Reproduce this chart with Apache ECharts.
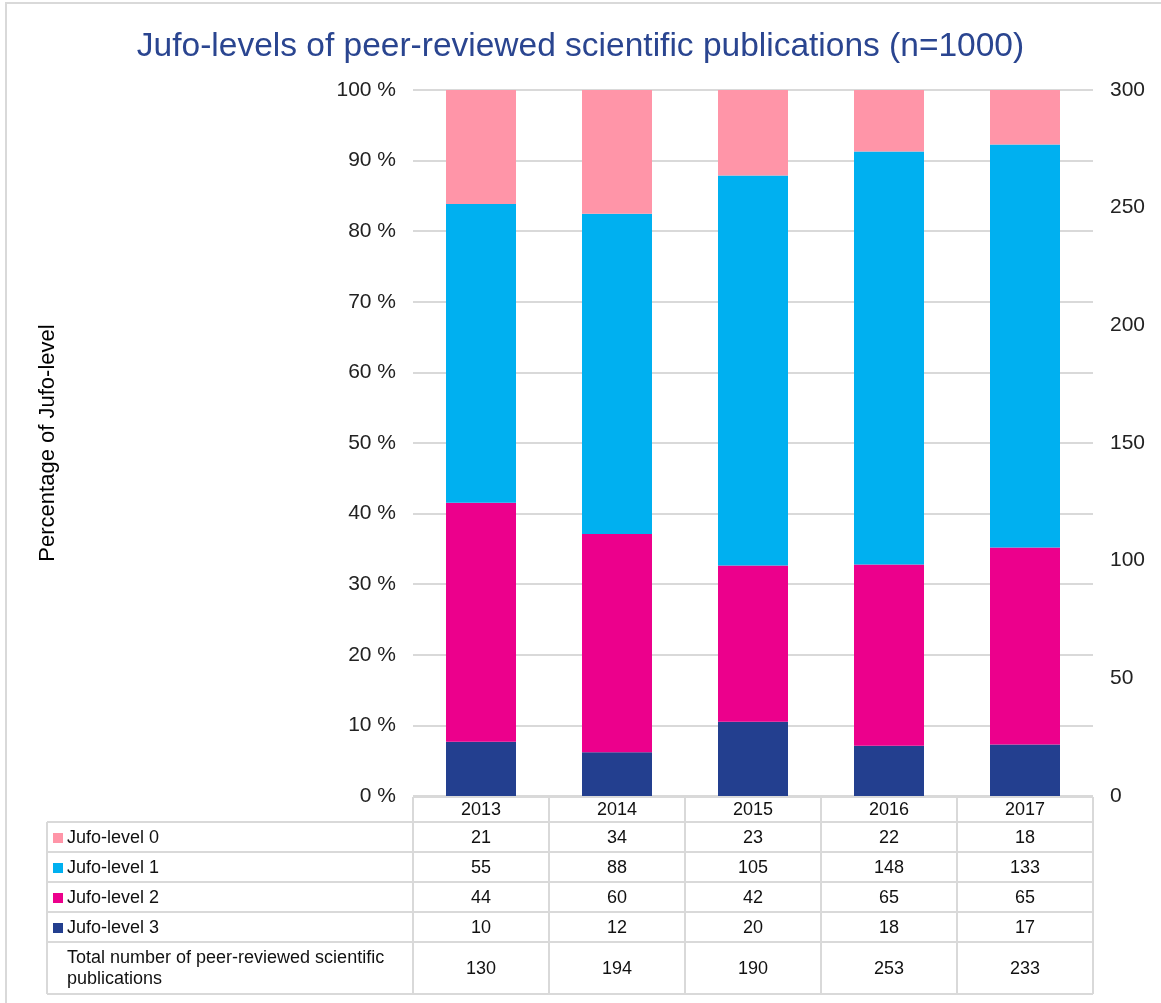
<!DOCTYPE html>
<html>
<head>
<meta charset="utf-8">
<script src="https://cdn.jsdelivr.net/npm/echarts@6/dist/echarts.min.js"></script>
<style>
    html, body { margin: 0; padding: 0; background: #fff; }
    #chart { width: 1161px; height: 1003px; }
</style>
</head>
<body>
<div id="chart"></div>
<script>
// data
const years = ["2013", "2014", "2015", "2016", "2017"];
const level0 = [21, 34, 23, 22, 18];
const level1 = [55, 88, 105, 148, 133];
const level2 = [44, 60, 42, 65, 65];
const level3 = [10, 12, 20, 18, 17];
const totals = [130, 194, 190, 253, 233];
const leftTicks = [0, 100, 10];   // min, max, interval (percent)
const rightTicks = [0, 300, 50];  // min, max, interval (count)

const colors = {
    l0: "#FF95A8",
    l1: "#00B0F0",
    l2: "#EC008C",
    l3: "#233F8F",
};
const font = "Liberation Sans, Arial, sans-serif";

const rows = [
    { name: "Jufo-level 0", data: level0, color: colors.l0 },
    { name: "Jufo-level 1", data: level1, color: colors.l1 },
    { name: "Jufo-level 2", data: level2, color: colors.l2 },
    { name: "Jufo-level 3", data: level3, color: colors.l3 },
];

function pct(arr) {
    return arr.map((v, i) => (v / totals[i]) * 100);
}

const myChart = echarts.init(document.getElementById("chart"));

const gridLeft = 413, gridRight = 68, gridTop = 90, gridBottom = 207;

let option = {
    animation: false,
    backgroundColor: "#fff",
    textStyle: { fontFamily: font },
    title: {
        text: "Jufo-levels of peer-reviewed scientific publications (n=1000)",
        left: "center",
        top: 25,
        textStyle: { color: "#2A4590", fontSize: 33.5, fontWeight: "normal", fontFamily: font },
    },
    grid: { left: gridLeft, right: gridRight, top: gridTop, bottom: gridBottom },
    xAxis: {
        type: "category",
        data: years,
        axisLine: { show: false },
        axisTick: { show: false },
        axisLabel: { show: false },
    },
    yAxis: [
        {
            type: "value",
            min: leftTicks[0],
            max: leftTicks[1],
            interval: leftTicks[2],
            name: "Percentage of Jufo-level",
            nameLocation: "middle",
            nameGap: 354,
            nameTextStyle: { fontSize: 22, color: "#000", fontFamily: font },
            axisLabel: { formatter: "{value} %", fontSize: 21, color: "#222", margin: 17 },
            splitLine: { lineStyle: { color: "#D9D9D9", width: 2 } },
        },
        {
            type: "value",
            min: rightTicks[0],
            max: rightTicks[1],
            interval: rightTicks[2],
            position: "right",
            axisLabel: { fontSize: 21, color: "#222", margin: 17 },
            splitLine: { show: false },
        },
    ],
    series: [
        { name: "Jufo-level 3", data: pct(level3), color: colors.l3 },
        { name: "Jufo-level 2", data: pct(level2), color: colors.l2 },
        { name: "Jufo-level 1", data: pct(level1), color: colors.l1 },
        { name: "Jufo-level 0", data: pct(level0), color: colors.l0 },
    ].map((s) => ({
        name: s.name,
        type: "bar",
        stack: "total",
        barWidth: 70,
        data: s.data,
        itemStyle: { color: s.color },
    })),
};
myChart.setOption(option);

// data table under the plot
function buildTable() {
    const c0 = myChart.convertToPixel({ xAxisIndex: 0 }, years[0]);
    const c1 = myChart.convertToPixel({ xAxisIndex: 0 }, years[1]);
    const colW = c1 - c0;
    const tableLeft = 47;
    const firstCol = c0 - colW / 2;
    const lastCol = firstCol + colW * years.length;
    const rowY = [797, 822, 852, 882, 912, 942, 994];
    const lineColor = "#D9D9D9";
    const els = [];

    // outer frame of the picture
    els.push({ type: "rect", shape: { x: 6, y: 3, width: 1170, height: 1010 },
        style: { fill: null, stroke: lineColor, lineWidth: 2 }, silent: true });

    // horizontal lines
    rowY.forEach((y, i) => {
        const x1 = i === 0 ? firstCol : tableLeft;
        els.push({ type: "line", shape: { x1: x1, y1: y, x2: lastCol, y2: y },
            style: { stroke: lineColor, lineWidth: 2 } });
    });
    // vertical lines
    els.push({ type: "line", shape: { x1: tableLeft, y1: rowY[1], x2: tableLeft, y2: rowY[6] },
        style: { stroke: lineColor, lineWidth: 2 } });
    for (let i = 0; i <= years.length; i++) {
        const x = firstCol + colW * i;
        els.push({ type: "line", shape: { x1: x, y1: rowY[0], x2: x, y2: rowY[6] },
            style: { stroke: lineColor, lineWidth: 2 } });
    }

    const cellText = (x, y, t, align) => ({
        type: "text", x: x, y: y,
        style: { text: t, fill: "#111", font: "18px " + font, align: align || "center", verticalAlign: "middle" },
    });

    // header years
    years.forEach((yr, i) => els.push(cellText(c0 + colW * i, (rowY[0] + rowY[1]) / 2 + 1, yr)));

    // level rows
    rows.forEach((r, ri) => {
        const yMid = (rowY[ri + 1] + rowY[ri + 2]) / 2 + 1;
        els.push({ type: "rect", shape: { x: 53, y: yMid - 5, width: 10, height: 10 }, style: { fill: r.color } });
        els.push(cellText(67, yMid, r.name, "left"));
        r.data.forEach((v, i) => els.push(cellText(c0 + colW * i, yMid, String(v))));
    });

    // totals row
    const yTot = (rowY[5] + rowY[6]) / 2 + 1;
    els.push({ type: "text", x: 67, y: yTot,
        style: { text: "Total number of peer-reviewed scientific\npublications", fill: "#111",
            font: "18px " + font, align: "left", verticalAlign: "middle", lineHeight: 21 } });
    totals.forEach((v, i) => els.push(cellText(c0 + colW * i, yTot, String(v))));

    myChart.setOption({ graphic: { elements: els } });
}
buildTable();
</script>
</body>
</html>
